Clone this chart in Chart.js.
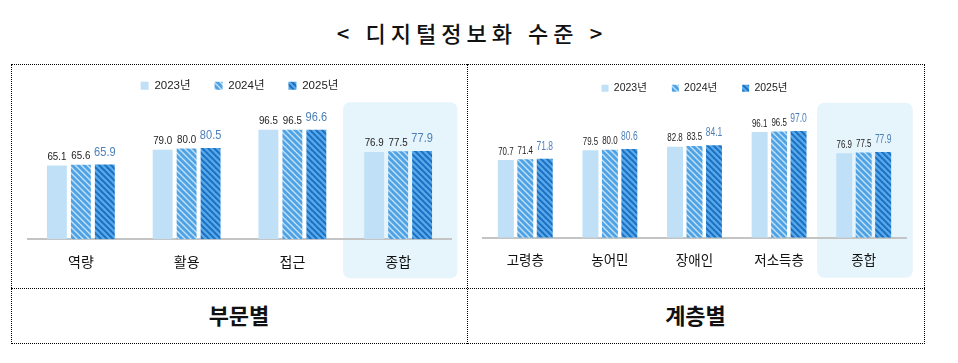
<!DOCTYPE html>
<html lang="ko">
<head>
<meta charset="utf-8">
<script src="https://cdn.jsdelivr.net/npm/chart.js@4"></script>
<style>
  body { margin: 0; background: #fff; }
  #wrap { position: relative; width: 958px; height: 363px; overflow: hidden; font-family: "Noto Sans CJK KR", sans-serif; }
  .title { position: absolute; left: 4px; width: 936px; top: 16px; text-align: center; font-size: 22px; letter-spacing: 5px; font-weight: 500; color: #111; }
  .box { position: absolute; left: 11px; top: 64px; width: 914px; height: 280px; box-sizing: border-box; border: 1px dotted #000; }
  .vline { position: absolute; left: 467px; top: 64px; height: 280px; border-left: 1px dotted #000; }
  .hline { position: absolute; left: 11px; top: 288px; width: 914px; border-top: 1px dotted #000; }
  .foot { position: absolute; top: 298px; font-size: 22px; font-weight: 700; text-align: center; color: #111; }
  canvas { position: absolute; }
</style>
</head>
<body>
<div id="wrap">
  <div class="title">&lt; 디지털정보화 수준 &gt;</div>
  <div class="box"></div>
  <div class="vline"></div>
  <div class="hline"></div>
  <div class="foot" style="left:11px;width:456px;">부문별</div>
  <div class="foot" style="left:467px;width:457px;">계층별</div>
  <div style="position:absolute;left:11px;top:56px;width:456px;height:228px;"><canvas id="chart-sector"></canvas></div>
  <div style="position:absolute;left:467px;top:58px;width:457px;height:226px;"><canvas id="chart-group"></canvas></div>
</div>
<script>
        const years = ['2023년', '2024년', '2025년'];

        // 부문별
        const sectorLabels = ['역량', '활용', '접근', '종합'];
        const sector2023 = [65.1, 79.0, 96.5, 76.9];
        const sector2024 = [65.6, 80.0, 96.5, 77.5];
        const sector2025 = [65.9, 80.5, 96.6, 77.9];

        // 계층별
        const groupLabels = ['고령층', '농어민', '장애인', '저소득층', '종합'];
        const group2023 = [70.7, 79.5, 82.8, 96.1, 76.9];
        const group2024 = [71.4, 80.0, 83.5, 96.5, 77.5];
        const group2025 = [71.8, 80.6, 84.1, 97.0, 77.9];

        const latinKr = '"Liberation Sans", "Noto Sans CJK KR", sans-serif';
        Chart.defaults.font.family = latinKr;
        Chart.defaults.color = '#222';

        function stripes(base, line, size, lw) {
            const c = document.createElement('canvas');
            c.width = size; c.height = size;
            const g = c.getContext('2d');
            g.fillStyle = base;
            g.fillRect(0, 0, size, size);
            g.strokeStyle = line;
            g.lineWidth = lw;
            [-size, 0, size].forEach(o => {
                g.beginPath();
                g.moveTo(o - 1, -1);
                g.lineTo(o + size + 1, size + 1);
                g.stroke();
            });
            return g.createPattern(c, 'repeat');
        }

        const fill2023 = '#bfe0f7';
        const fill2024 = stripes('#c4e3f9', '#4fa2e3', 6, 3);
        const fill2025 = stripes('#1a6dbf', '#55a8ea', 6, 2.4);

        // 종합 배경 강조 (축보다 먼저)
        const highlightPlugin = {
            id: 'highlight',
            beforeDraw(chart, args, opts) {
                const x = chart.scales.x;
                const last = chart.data.labels.length - 1;
                const cx = x.getPixelForValue(last);
                const w = x.width / chart.data.labels.length;
                const base = chart.chartArea.bottom;
                const ctx = chart.ctx;
                ctx.save();
                ctx.fillStyle = '#e6f4fc';
                ctx.beginPath();
                ctx.roundRect(cx - w * opts.l, base - opts.up, w * (opts.l + opts.r), opts.up + opts.down, 7);
                ctx.fill();
                ctx.restore();
            }
        };

        // 막대 위 값 표시 (좁은 글꼴 느낌으로 가로 압축)
        const valuePlugin = {
            id: 'values',
            afterDatasetsDraw(chart, args, opts) {
                const ctx = chart.ctx;
                chart.data.datasets.forEach((ds, i) => {
                    const last = i === chart.data.datasets.length - 1;
                    chart.getDatasetMeta(i).data.forEach((bar, j) => {
                        ctx.save();
                        ctx.translate(bar.x, bar.y - (last ? 6 : 3));
                        ctx.scale(last ? opts.bigSx : opts.sx, 1);
                        ctx.textAlign = 'center';
                        ctx.textBaseline = 'bottom';
                        ctx.font = (last ? opts.bigSize : opts.size) + 'px ' + latinKr;
                        ctx.fillStyle = last ? '#4d80b8' : '#222';
                        ctx.fillText(ds.data[j].toFixed(1), 0, 0);
                        ctx.restore();
                    });
                });
            }
        };

        function makeChart(id, labels, d1, d2, d3, o) {
            return new Chart(document.getElementById(id), {
                type: 'bar',
                data: {
                    labels: labels,
                    datasets: [
                        { label: years[0], data: d1, backgroundColor: fill2023 },
                        { label: years[1], data: d2, backgroundColor: fill2024 },
                        { label: years[2], data: d3, backgroundColor: fill2025 }
                    ]
                },
                options: {
                    responsive: true,
                    maintainAspectRatio: false,
                    animation: false,
                    events: [],
                    categoryPercentage: o.catPct,
                    barPercentage: o.barPct,
                    layout: { padding: o.pad },
                    scales: {
                        x: {
                            grid: { display: false, drawTicks: false },
                            border: { display: true, color: '#c4c4c4', width: 2 },
                            ticks: { padding: o.tickPad, color: '#111', font: { size: o.tickSize, family: '"Noto Sans CJK KR", sans-serif' } }
                        },
                        y: { display: false, min: 0, max: o.max }
                    },
                    plugins: {
                        legend: {
                            labels: { boxWidth: o.box, boxHeight: o.box, padding: o.legPad, color: '#222', font: { size: o.legSize } }
                        },
                        tooltip: { enabled: false },
                        highlight: o.hl,
                        values: o.vals
                    }
                },
                plugins: [highlightPlugin, valuePlugin]
            });
        }

        makeChart('chart-sector', sectorLabels, sector2023, sector2024, sector2025, {
            catPct: 0.68, barPct: 0.83,
            pad: { left: 17, right: 16, top: 0, bottom: 0 },
            tickPad: 14, tickSize: 14, max: 121.5,
            box: 8, legPad: 24, legSize: 11.5,
            vals: { size: 11.5, sx: 0.85, bigSize: 13, bigSx: 0.85 },
            hl: { l: 0.52, r: 0.56, up: 137, down: 39 }
        });

        makeChart('chart-group', groupLabels, group2023, group2024, group2025, {
            catPct: 0.69, barPct: 0.82,
            pad: { left: 16, right: 18, top: 0, bottom: 2 },
            tickPad: 14, tickSize: 13.5, max: 122,
            box: 7, legPad: 25, legSize: 10.5,
            vals: { size: 11, sx: 0.72, bigSize: 12.5, bigSx: 0.68 },
            hl: { l: 0.55, r: 0.58, up: 135, down: 40 }
        });
</script>
</body>
</html>
